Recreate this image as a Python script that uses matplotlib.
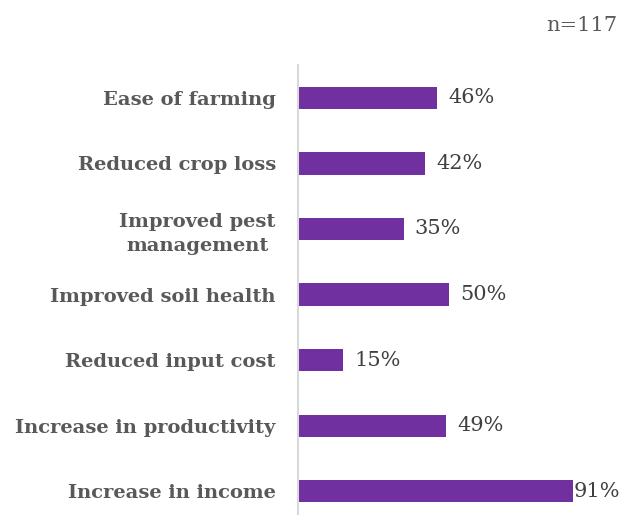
import matplotlib.pyplot as plt

# Reasons given by respondents, bottom to top
categories = ['Increase in income', 'Increase in productivity', 'Reduced input cost',
              'Improved soil health', 'Improved pest\nmanagement', 'Reduced crop loss',
              'Ease of farming']
percent = [91, 49, 15, 50, 35, 42, 46]

plt.rcParams['font.family'] = ['DejaVu Serif']

fig = plt.figure(figsize=(6.19, 5.15), dpi=100)
ax = fig.add_axes([0.4814, -0.0175, 0.4879, 0.8913])

ypos = range(len(categories))
ax.barh(ypos, percent, height=0.34, color='#7030A0')
ax.set_xlim(0, 100)
ax.set_ylim(-0.5, len(categories) - 0.5)

for y, v in zip(ypos, percent):
    off = 0.5 if v > 85 else 8
    ax.annotate(f'{v}%', (v, y), xytext=(off, 0), textcoords='offset points',
                va='center', ha='left', fontsize=15, color='#404040')

ax.set_yticks(list(ypos))
ax.set_yticklabels(categories, fontsize=14, fontweight='bold', color='#595959',
                   multialignment='center', linespacing=1.45)
ax.tick_params(axis='y', length=0, pad=16)
ax.set_xticks([])
for s in ['top', 'right', 'bottom']:
    ax.spines[s].set_visible(False)
ax.spines['left'].set_color('#d9d9d9')
ax.spines['left'].set_linewidth(1.5)

fig.text(0.997, 0.95, 'n=117', ha='right', va='center', fontsize=15, color='#595959')

plt.savefig('out.png', dpi=100)
